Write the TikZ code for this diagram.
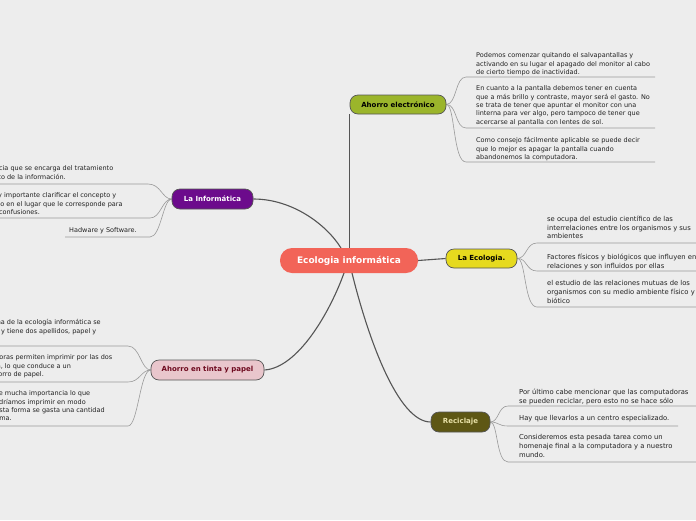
\documentclass[tikz,border=0pt]{standalone}
\usepackage{fontspec}
\setmainfont{DejaVu Sans}
\pgfdeclarelayer{back}
\pgfdeclarelayer{bg}
\pgfsetlayers{back,bg,main}
\definecolor{bgc}{HTML}{EDEDED}
\definecolor{mainc}{HTML}{F26458}
\definecolor{aec}{HTML}{9BB52B}
\definecolor{infc}{HTML}{6C0B8C}
\definecolor{ecoc}{HTML}{E6DA1E}
\definecolor{tinc}{HTML}{E9C6CC}
\definecolor{tintxt}{HTML}{6E0A1F}
\definecolor{recc}{HTML}{5E5714}
\definecolor{rectxt}{HTML}{E9E2A8}
\definecolor{linec}{HTML}{555555}
\definecolor{leafline}{HTML}{9A9A9A}
\definecolor{leaftxt}{HTML}{222222}
\tikzset{
  topic/.style={draw=linec, line width=0.7pt, rounded corners=8pt, inner sep=0pt,
    font=\fontsize{7}{8}\selectfont\bfseries},
  mainconn/.style={draw=linec, line width=1.1pt},
  leafconn/.style={draw=leafline, line width=0.6pt},
  leafA/.style={anchor=north west, inner sep=0pt, align=left, text=leaftxt,
    font=\fontsize{6.5}{8.4}\selectfont},
  leafB/.style={anchor=north west, inner sep=0pt, align=left, text=leaftxt,
    font=\fontsize{6.8}{8.9}\selectfont},
}
\begin{document}
\begin{tikzpicture}[x=1pt,y=-1pt]
\begin{pgfonlayer}{back}
\fill[bgc] (0,0) rectangle (696,520);
\end{pgfonlayer}
\useasboundingbox (0,0) rectangle (696,520);

% central and topic nodes
\node[fill=mainc, rounded corners=12pt, minimum width=138pt, minimum height=25pt, inner sep=0pt,
  text=white, font=\fontsize{9}{10}\selectfont\bfseries] (main) at (349,260.5) {Ecologia informática};
\node[topic, fill=aec, minimum width=96pt, minimum height=19pt] (ae) at (398,104.5) {Ahorro electrónico};
\node[topic, fill=infc, text=white, minimum width=81pt, minimum height=20pt] (inf) at (212.5,199) {La Informática};
\node[topic, fill=ecoc, minimum width=71pt, minimum height=19pt] (eco) at (481.5,258.5) {La Ecologia.};
\node[topic, fill=tinc, text=tintxt, minimum width=113pt, minimum height=20pt] (tin) at (207.5,370) {Ahorro en tinta y papel};
\node[topic, fill=recc, text=rectxt, minimum width=59pt, minimum height=20pt] (rec) at (460.5,422) {Reciclaje};

% main connectors
\begin{pgfonlayer}{bg}
\draw[mainconn] (main.north -| ae.west) -- (ae.south west);
\draw[mainconn] (inf.east) .. controls (292,199) and (326,224) .. (341,248);
\draw[mainconn] (eco.west) -- (main.east);
\draw[mainconn] (tin.east) .. controls (298,368) and (330,312) .. (344,273);
\draw[mainconn] (352,273) .. controls (368,338) and (398,422) .. (rec.west);
\end{pgfonlayer}

% Ahorro electronico leaves
\node[leafA] (e1) at (476,52.5) {Podemos comenzar quitando el salvapantallas y\\activando en su lugar el apagado del monitor al cabo\\de cierto tiempo de inactividad.};
\node[leafA] (e2) at (476,85.5) {En cuanto a la pantalla debemos tener en cuenta\\que a más brillo y contraste, mayor será el gasto. No\\se trata de tener que apuntar el monitor con una\\linterna para ver algo, pero tampoco de tener que\\acercarse al pantalla con lentes de sol.};
\node[leafA] (e3) at (476,137.5) {Como consejo fácilmente aplicable se puede decir\\que lo mejor es apagar la pantalla cuando\\abandonemos la computadora.};
\coordinate (e1s) at (466,77);  \coordinate (e1e) at (655,77);
\coordinate (e2s) at (466,128); \coordinate (e2e) at (655,128);
\coordinate (e3s) at (466,162); \coordinate (e3e) at (655,162);
\begin{pgfonlayer}{bg}
\draw[leafconn] (ae.east) .. controls (457,104) and (455,77) .. (e1s) -- (e1e);
\draw[leafconn] (ae.east) .. controls (457,104) and (455,128) .. (e2s) -- (e2e);
\draw[leafconn] (ae.east) .. controls (455,104) and (453,162) .. (e3s) -- (e3e);
\end{pgfonlayer}

% La Ecologia leaves
\node[leafB] (g1) at (547,215.5) {se ocupa del estudio científico de las\\interrelaciones entre los organismos y sus\\ambientes};
\node[leafB] (g2) at (547,253.5) {Factores físicos y biológicos que influyen en sus\\relaciones y son influidos por ellas};
\node[leafB] (g3) at (547,280.5) {el estudio de las relaciones mutuas de los\\organismos con su medio ambiente físico y\\biótico};
\coordinate (g1s) at (537,243); \coordinate (g1e) at (700,243);
\coordinate (g2s) at (537,271); \coordinate (g2e) at (700,271);
\coordinate (g3s) at (537,307); \coordinate (g3e) at (700,307);
\begin{pgfonlayer}{bg}
\draw[leafconn] (eco.east) .. controls (527,258) and (526,243) .. (g1s) -- (g1e);
\draw[leafconn] (eco.east) .. controls (527,258) and (526,271) .. (g2s) -- (g2e);
\draw[leafconn] (eco.east) .. controls (526,258) and (524,307) .. (g3s) -- (g3e);
\end{pgfonlayer}

% Reciclaje leaves
\node[leafB] (r1) at (519,388.5) {Por último cabe mencionar que las computadoras\\se pueden reciclar, pero esto no se hace sólo};
\node[leafB] (r2) at (519,415.5) {Hay que llevarlos a un centro especializado.};
\node[leafB] (r3) at (519,434.5) {Consideremos esta pesada tarea como un\\homenaje final a la computadora y a nuestro\\mundo.};
\coordinate (r1s) at (508,406); \coordinate (r1e) at (700,406);
\coordinate (r2s) at (508,426); \coordinate (r2e) at (678,426);
\coordinate (r3s) at (508,462); \coordinate (r3e) at (700,462);
\begin{pgfonlayer}{bg}
\draw[leafconn] (rec.east) .. controls (499,422) and (498,406) .. (r1s) -- (r1e);
\draw[leafconn] (rec.east) .. controls (499,422) and (498,426) .. (r2s) -- (r2e);
\draw[leafconn] (rec.east) .. controls (498,422) and (496,462) .. (r3s) -- (r3e);
\end{pgfonlayer}

% La Informatica leaves
\node[leafA] (i1) at (-32,165.5) {Es la ciencia que se encarga del tratamiento\\automático de la información.};
\node[leafA] (i2) at (-22,192.5) {Es muy importante clarificar el concepto y\\ubicarlo en el lugar que le corresponde para\\evitar confusiones.};
\node[leafA] (i3) at (69,227.5) {Hadware y Software.};
\coordinate (i1s) at (148,184); \coordinate (i1e) at (-5,184);
\coordinate (i2s) at (150,218); \coordinate (i2e) at (-5,218);
\coordinate (i3s) at (150,237); \coordinate (i3e) at (65,237);
\begin{pgfonlayer}{bg}
\draw[leafconn] (inf.west) .. controls (162,199) and (161,184) .. (i1s) -- (i1e);
\draw[leafconn] (inf.west) .. controls (162,199) and (161,218) .. (i2s) -- (i2e);
\draw[leafconn] (inf.west) .. controls (163,199) and (161,237) .. (i3s) -- (i3e);
\end{pgfonlayer}

% Ahorro en tinta leaves
\node[leafA] (t1) at (-22,319.5) {La rama de la ecología informática se\\centra y tiene dos apellidos, papel y\\tinta.};
\node[leafA] (t2) at (-51,354.5) {Algunas impresoras permiten imprimir por las dos\\caras de la hoja, lo que conduce a un\\significativo ahorro de papel.};
\node[leafA] (t3) at (-15,390.5) {Es de mucha importancia lo que\\y podríamos imprimir en modo\\de esta forma se gasta una cantidad\\mínima.};
\coordinate (t1s) at (128,346); \coordinate (t1e) at (-5,346);
\coordinate (t2s) at (128,382); \coordinate (t2e) at (-5,382);
\coordinate (t3s) at (128,426); \coordinate (t3e) at (-5,426);
\begin{pgfonlayer}{bg}
\draw[leafconn] (tin.west) .. controls (141,370) and (140,346) .. (t1s) -- (t1e);
\draw[leafconn] (tin.west) .. controls (141,370) and (140,382) .. (t2s) -- (t2e);
\draw[leafconn] (tin.west) .. controls (140,370) and (138,426) .. (t3s) -- (t3e);
\end{pgfonlayer}
\end{tikzpicture}
\end{document}
